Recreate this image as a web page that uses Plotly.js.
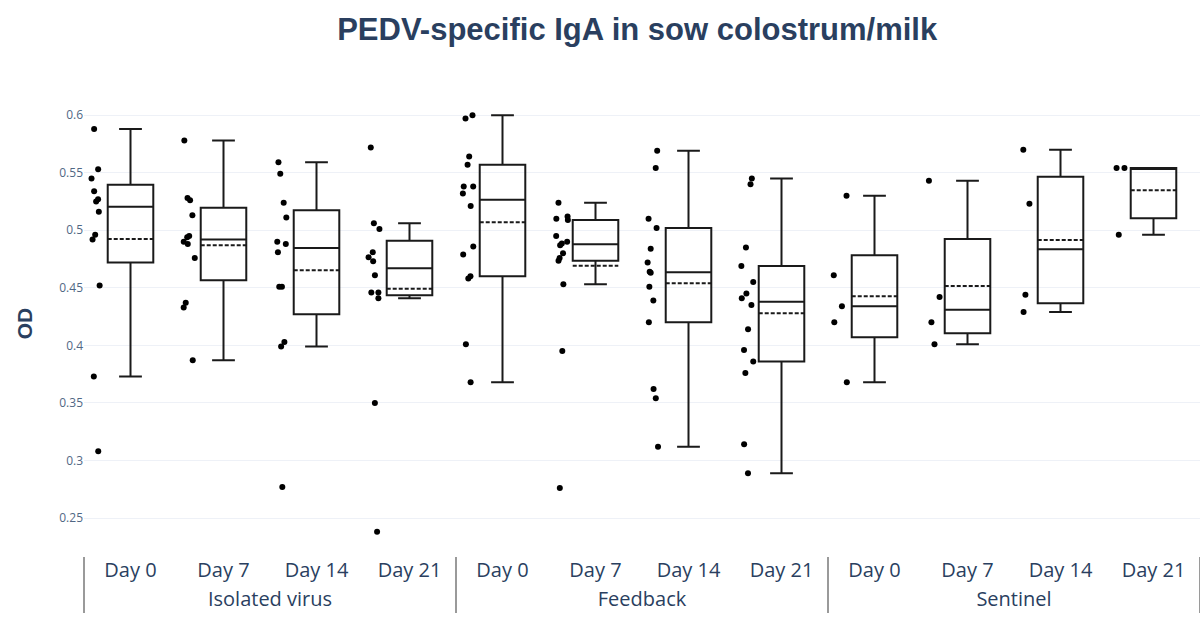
<!DOCTYPE html>
<html>
<head>
<meta charset="utf-8">
<script src="https://cdn.plot.ly/plotly-3.0.1.min.js"></script>
<style>html,body{margin:0;padding:0;background:#fff;}#chart{width:1200px;height:624px;}</style>
</head>
<body>
<div id="chart"></div>
<script>
// Groups and time points
const groups = ["Isolated virus", "Feedback", "Sentinel"];
const days = ["Day 0", "Day 7", "Day 14", "Day 21"];

// OD values (one array per group/day)
const isolatedDay0  = [0.588, 0.553, 0.545, 0.534, 0.527, 0.525, 0.516, 0.496, 0.492, 0.452, 0.373, 0.308];
const isolatedDay7  = [0.578, 0.528, 0.526, 0.513, 0.495, 0.494, 0.490, 0.488, 0.476, 0.437, 0.433, 0.387];
const isolatedDay14 = [0.559, 0.549, 0.524, 0.511, 0.490, 0.488, 0.481, 0.451, 0.451, 0.403, 0.399, 0.277];
const isolatedDay21 = [0.572, 0.506, 0.501, 0.481, 0.4765, 0.473, 0.461, 0.446, 0.446, 0.441, 0.350, 0.238];

const feedbackDay0  = [0.600, 0.597, 0.564, 0.557, 0.538, 0.538, 0.532, 0.521, 0.486, 0.479, 0.460, 0.458, 0.401, 0.368];
const feedbackDay7  = [0.524, 0.512, 0.510, 0.509, 0.495, 0.490, 0.4885, 0.487, 0.480, 0.476, 0.4735, 0.453, 0.395, 0.276];
const feedbackDay14 = [0.569, 0.554, 0.510, 0.502, 0.484, 0.472, 0.464, 0.463, 0.451, 0.439, 0.420, 0.362, 0.354, 0.312];
const feedbackDay21 = [0.545, 0.540, 0.485, 0.469, 0.455, 0.445, 0.441, 0.435, 0.414, 0.396, 0.386, 0.376, 0.314, 0.289];

const sentinelDay0  = [0.530, 0.461, 0.434, 0.420, 0.368];
const sentinelDay7  = [0.543, 0.442, 0.420, 0.401];
const sentinelDay14 = [0.570, 0.523, 0.444, 0.429];
const sentinelDay21 = [0.554, 0.554, 0.496];

const series = [
  [isolatedDay0, isolatedDay7, isolatedDay14, isolatedDay21],
  [feedbackDay0, feedbackDay7, feedbackDay14, feedbackDay21],
  [sentinelDay0, sentinelDay7, sentinelDay14, sentinelDay21]
];

const xGroup = [], xDay = [], yVals = [];
groups.forEach((g, gi) => {
  days.forEach((d, di) => {
    series[gi][di].forEach(v => { xGroup.push(g); xDay.push(d); yVals.push(v); });
  });
});

const trace = {
  type: 'box',
  x: [xGroup, xDay],
  y: yVals,
  boxpoints: 'all',
  boxmean: true,
  jitter: 0.3,
  pointpos: -1.5,
  marker: {color: '#000000', size: 6},
  line: {color: '#1a1a1a', width: 2},
  fillcolor: 'rgba(255,255,255,0)',
  showlegend: false
};

const layout = {
  template: 'plotly_white',
  width: 1200, height: 624,
  margin: {l: 84, r: 0, t: 91, b: 68},
  title: {
    text: '<b>PEDV-specific IgA in sow colostrum/milk</b>',
    font: {family: 'Arial, "Liberation Sans", sans-serif', size: 31, color: '#2a3f5f'},
    x: 0.531, xanchor: 'center', xref: 'container',
    y: 0.953, yanchor: 'middle', yref: 'container'
  },
  font: {family: '"Open Sans", verdana, arial, sans-serif', color: '#2a3f5f'},
  xaxis: {
    type: 'multicategory',
    range: [-0.5, 11.5],
    tickfont: {size: 20, color: '#2a3f5f'},
    showdividers: true,
    dividercolor: '#9a9a9a',
    dividerwidth: 1.5,
    showgrid: false
  },
  yaxis: {
    title: {text: '<b>OD</b>', standoff: 20, font: {family: 'Arial, "Liberation Sans", sans-serif', size: 21, color: '#2a3f5f'}},
    range: [0.217, 0.621],
    dtick: 0.05,
    tickfont: {size: 12, color: '#506784'},
    gridcolor: '#EEF1F7',
    zeroline: false
  },
  paper_bgcolor: '#ffffff',
  plot_bgcolor: '#ffffff'
};

Plotly.newPlot('chart', [trace], layout, {displayModeBar: false});
</script>
</body>
</html>
